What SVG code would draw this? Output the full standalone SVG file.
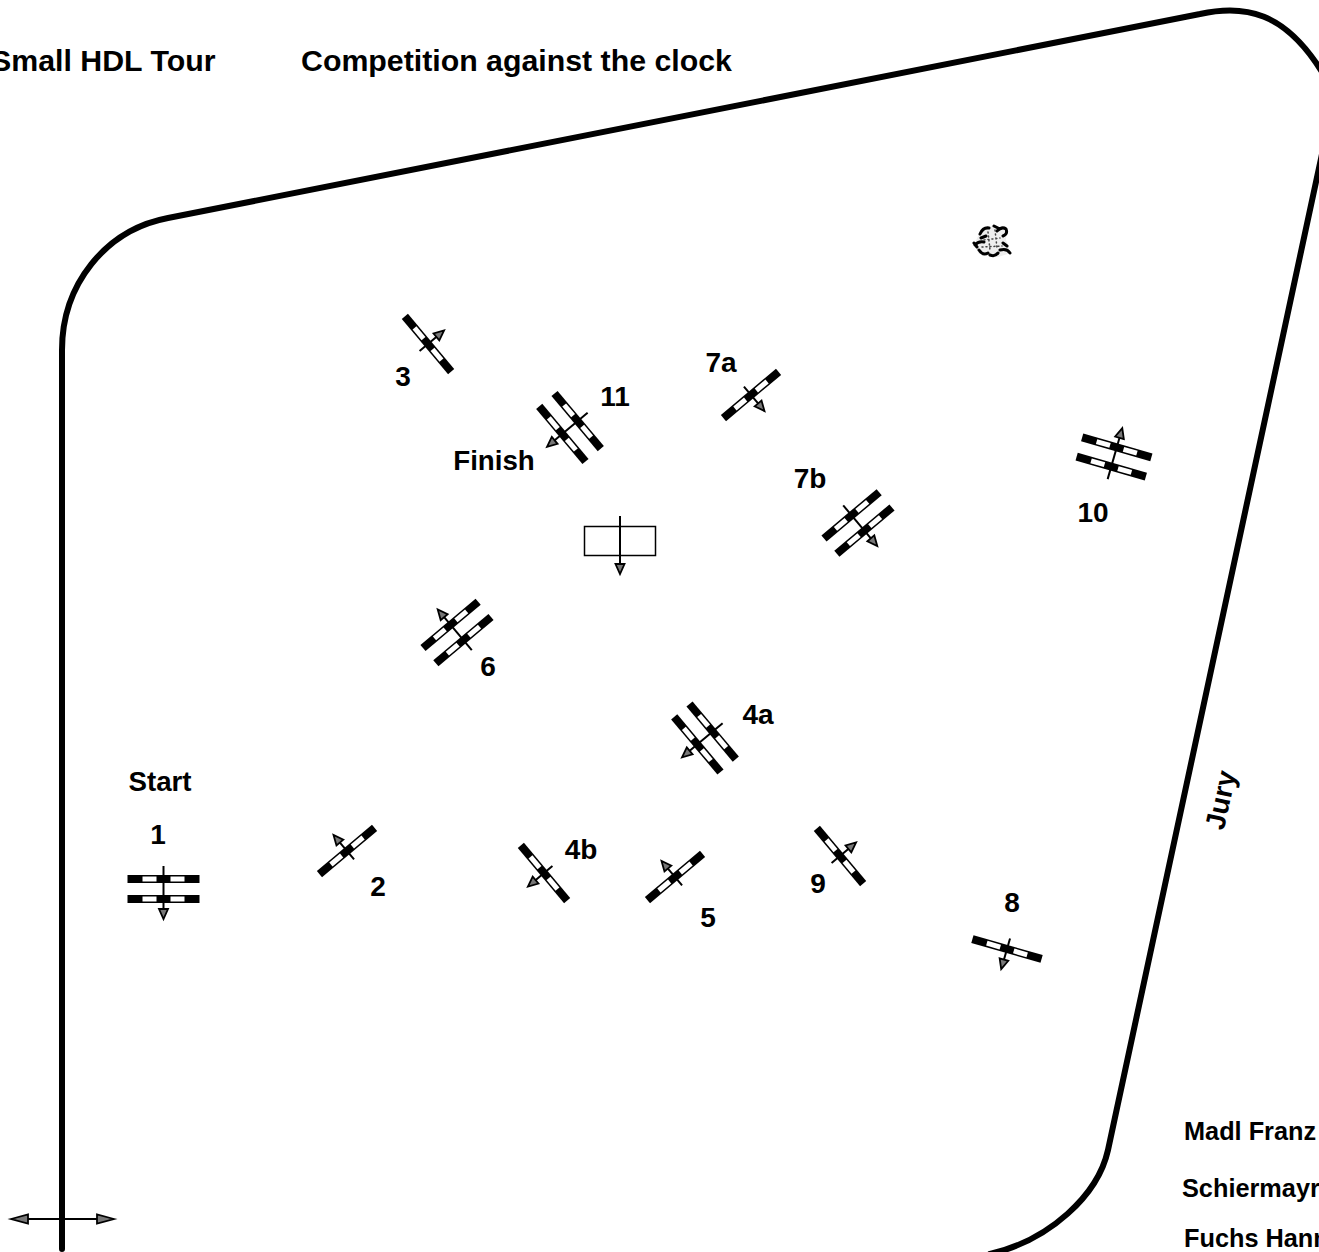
<svg xmlns="http://www.w3.org/2000/svg" xmlns:xlink="http://www.w3.org/1999/xlink" width="1319" height="1252" viewBox="0 0 1319 1252">
<style>
text{font-family:"Liberation Sans",Arial,sans-serif;font-weight:bold;fill:#000}
.t{font-size:30.300px}.n{font-size:28px;text-anchor:middle}.s{font-size:27.700px;text-anchor:middle}.l{font-size:25.300px}
.b{fill:none;stroke:#000;stroke-width:6;stroke-linecap:round;stroke-linejoin:round}
.a{fill:none;stroke:#000;stroke-width:2}
.h{fill:#777;stroke:#000;stroke-width:1.800;stroke-linejoin:miter}
</style>
<defs>
<g id="bar"><rect x="-36" y="-4" width="72" height="8" fill="#000"/><rect x="-21" y="-2.500" width="14" height="5" fill="#fff"/><rect x="7" y="-2.500" width="14" height="5" fill="#fff"/></g>
<g id="head"><path class="h" d="M-4.500 0H4.500L0 10Z"/></g>
<g id="single"><use xlink:href="#bar" href="#bar"/><path class="a" d="M0-11V12"/><use href="#head" xlink:href="#head" y="11"/></g>
<g id="oxer"><use xlink:href="#bar" href="#bar" y="-10"/><use xlink:href="#bar" href="#bar" y="10"/><path class="a" d="M0-23V20"/><use href="#head" xlink:href="#head" y="20"/></g>
</defs>
<g id="border"><path class="b" d="M62 1249V350C62 285 105 230 168 218L1200 14C1245 4 1285 12 1322 72"/><path class="b" d="M1325 140L1108 1150C1098 1195 1050 1240 990 1254"/></g>
<g id="connectors"><path class="a" d="M20 1219H105"/><path class="h" d="M11 1219L28 1214.500V1223.500Z"/><path class="h" d="M114 1219L97 1214.500V1223.500Z"/></g>
<g id="titles"><text class="t" x="-9" y="71">Small HDL Tour</text><text class="t" x="301" y="71">Competition against the clock</text></g>
<g id="g1"><use href="#oxer" xlink:href="#oxer" transform="translate(163.500 889)"/><text class="s" x="160" y="791">Start</text><text class="n" x="158" y="844">1</text></g>
<g id="g2"><use href="#single" xlink:href="#single" transform="translate(347 851) rotate(140)"/><text class="n" x="378" y="896">2</text></g>
<g id="g3"><use href="#single" xlink:href="#single" transform="translate(428 344) rotate(-130)"/><text class="n" x="403" y="386">3</text></g>
<g id="g4a"><use href="#oxer" xlink:href="#oxer" transform="translate(705 738) rotate(50)"/><text class="n" x="758" y="724">4a</text></g>
<g id="g4b"><use href="#single" xlink:href="#single" transform="translate(544 873) rotate(50)"/><text class="n" x="581" y="859">4b</text></g>
<g id="g5"><use href="#single" xlink:href="#single" transform="translate(675 877) rotate(140)"/><text class="n" x="708" y="927">5</text></g>
<g id="g6"><use href="#oxer" xlink:href="#oxer" transform="translate(457 632.500) rotate(140)"/><text class="n" x="488" y="676">6</text></g>
<g id="g7a"><use href="#single" xlink:href="#single" transform="translate(751 395) rotate(-40)"/><text class="n" x="721" y="372">7a</text></g>
<g id="g7b"><use href="#oxer" xlink:href="#oxer" transform="translate(858 523) rotate(-40)"/><text class="n" x="810" y="488">7b</text></g>
<g id="g8"><use href="#single" xlink:href="#single" transform="translate(1007 949) rotate(16)"/><text class="n" x="1012" y="912">8</text></g>
<g id="g9"><use href="#single" xlink:href="#single" transform="translate(840 856) rotate(-130)"/><text class="n" x="818" y="893">9</text></g>
<g id="g10"><use href="#oxer" xlink:href="#oxer" transform="translate(1114 457) rotate(-164)"/><text class="n" x="1093" y="522">10</text></g>
<g id="g11"><use href="#oxer" xlink:href="#oxer" transform="translate(570 427.500) rotate(50)"/><text class="n" x="615" y="406">11</text><text class="s" x="494" y="470">Finish</text></g>
<g id="finish"><rect x="584.500" y="526.500" width="71" height="29" fill="none" stroke="#000" stroke-width="1.500"/><path class="a" d="M620 516V565"/><use href="#head" xlink:href="#head" x="620" y="564"/></g>
<g id="bush"><path fill="#eee" d="M980 232L990 226L1007 228L1006 240L1011 253L998 257L979 254L974 245Z"/><path fill="none" stroke="#000" stroke-width="3" stroke-linecap="round" d="M980 234Q983 227 989 228M997 231Q1002 226 1006 229Q1008 234 1003 236M975 245Q978 241 984 242M979 250Q983 256 988 253M990 255Q995 257 998 253M1000 250Q1007 248 1010 253M1003 243L1007 246M981 238L986 236M974 243L977 247M994 226L998 228"/><path fill="none" stroke="#444" stroke-width="1.500" stroke-linecap="round" stroke-dasharray="1 3" d="M988 232L990 250M995 230L997 248M982 247L1002 246M984 240L1000 238"/></g>
<g id="jury"><text class="n" transform="translate(1230 802) rotate(-78)">Jury</text><text class="l" x="1184" y="1140">Madl Franz</text><text class="l" x="1182" y="1197">Schiermayr</text><text class="l" x="1184" y="1247">Fuchs Hann</text></g>
</svg>
